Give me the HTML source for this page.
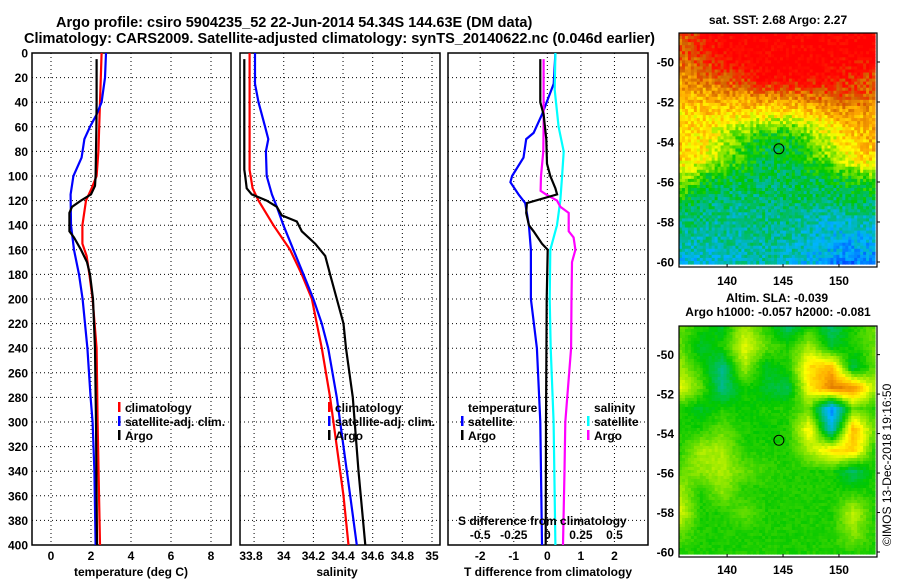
<!DOCTYPE html>
<html><head><meta charset="utf-8"><style>
html,body{margin:0;padding:0;background:#fff;}
svg{display:block;font-family:"Liberation Sans",Arial,sans-serif;font-weight:bold;}
</style></head><body>
<svg id="fig" width="900" height="580" viewBox="0 0 900 580" xmlns="http://www.w3.org/2000/svg">
<text x="56" y="27" font-size="14.5">Argo profile: csiro 5904235_52 22-Jun-2014 54.34S 144.63E (DM data)</text>
<text x="24" y="43" font-size="14.5" textLength="631">Climatology: CARS2009. Satellite-adjusted climatology: synTS_20140622.nc (0.046d earlier)</text>
<g id="g"></g>
</svg>
<script>
// ---- data ----
const depthTicks=[0,20,40,60,80,100,120,140,160,180,200,220,240,260,280,300,320,340,360,380,400];
const tTicks=[0,2,4,6,8];
const sTicks=[33.8,34,34.2,34.4,34.6,34.8,35];
const dTicks=[-2,-1,0,1,2];
const dsTicks=[-0.5,-0.25,0,0.25,0.5];
const argoTDepth=[5,20,40,60,80,100,108,115,120,125,130,145,150,160,170,180,200,240,300,400];
const argoT=[2.28,2.28,2.28,2.27,2.25,2.23,2.2,2.0,1.5,1.05,0.92,0.92,1.15,1.5,1.8,1.95,2.1,2.2,2.25,2.3];
const climTDepth=[0,40,80,100,110,120,140,155,165,180,200,240,300,400];
const climT=[2.53,2.45,2.37,2.28,2.03,1.75,1.57,1.57,1.78,1.92,2.08,2.28,2.33,2.45];
const satTDepth=[0,20,40,50,60,70,85,100,115,140,160,180,200,240,280,300,340,400];
const satT=[2.75,2.7,2.53,2.28,1.95,1.67,1.53,1.12,0.98,1.0,1.15,1.4,1.58,1.82,1.98,2.08,2.17,2.23];
const argoSDepth=[5,95,100,110,115,120,125,132,137,145,155,165,180,200,220,240,280,340,400];
const argoS=[33.734,33.734,33.74,33.75,33.784,33.885,33.953,33.987,34.088,34.122,34.212,34.28,34.313,34.358,34.403,34.42,34.466,34.504,34.55];
const climSDepth=[0,95,110,120,140,160,180,200,220,240,280,320,360,400];
const climS=[33.77,33.77,33.79,33.83,33.93,34.043,34.122,34.19,34.223,34.257,34.313,34.358,34.403,34.437];
const satSDepth=[0,25,40,60,70,80,100,115,125,140,160,180,200,220,240,280,320,360,400];
const satS=[33.806,33.806,33.83,33.874,33.896,33.88,33.885,33.92,33.953,33.998,34.065,34.133,34.2,34.257,34.3,34.358,34.403,34.448,34.493];
const argoDTDepth=[5,40,50,70,90,100,110,115,122,130,140,145,155,160,200,300,400];
const argoDT=[-0.21,-0.21,-0.11,-0.03,-0.01,0.09,0.24,0.29,-0.61,-0.63,-0.55,-0.41,-0.16,0.01,-0.02,-0.04,-0.05];
const satDTDepth=[0,25,50,65,70,85,100,105,115,122,140,160,200,240,300,400];
const satDT=[0.24,0.19,-0.16,-0.41,-0.63,-0.71,-1.05,-1.1,-0.86,-0.66,-0.55,-0.49,-0.49,-0.31,-0.21,-0.16];
const argoDSDepth=[5,60,80,100,112,115,120,125,130,145,150,160,170,200,240,300,340,400];
const argoDS=[-0.028,-0.028,-0.03,-0.047,-0.05,-0.01,0.072,0.097,0.159,0.159,0.196,0.209,0.184,0.18,0.177,0.134,0.128,0.117];
const satDSDepth=[0,30,60,80,100,120,140,160,200,240,300,400];
const satDS=[0.06,0.055,0.084,0.122,0.11,0.097,0.072,0.022,0.018,0.025,0.047,0.06];
const lonTicks=[140,145,150];
const latTicks=[-50,-52,-54,-56,-58,-60];
const sstGrid=[
[0.85,0.97,1,1,1,1,1,1],[0.85,0.95,1,1,1,1,1,1],[0.8,0.85,0.92,1,1,1,0.95,0.9],
[0.74,0.76,0.8,0.8,0.82,0.86,0.87,0.84],[0.68,0.7,0.68,0.66,0.64,0.7,0.76,0.76],
[0.72,0.68,0.56,0.46,0.46,0.6,0.7,0.76],[0.7,0.66,0.52,0.43,0.45,0.52,0.66,0.72],
[0.62,0.46,0.43,0.42,0.42,0.43,0.46,0.52],[0.46,0.41,0.39,0.4,0.4,0.4,0.42,0.42],
[0.4,0.38,0.36,0.38,0.38,0.33,0.33,0.35],[0.35,0.35,0.36,0.37,0.36,0.32,0.27,0.29],
[0.3,0.32,0.33,0.35,0.33,0.27,0.2,0.24]];
const slaGrid=[
[0.55,0.5,0.45,0.6,0.5,0.4,0.5,0.4,0.5,0.55],
[0.55,0.45,0.5,0.65,0.55,0.5,0.6,0.45,0.5,0.55],
[0.6,0.5,0.38,0.6,0.45,0.5,0.7,0.75,0.42,0.55],
[0.65,0.55,0.38,0.5,0.45,0.42,0.68,0.82,0.8,0.6],
[0.5,0.45,0.5,0.48,0.5,0.5,0.55,0.22,0.55,0.5],
[0.5,0.5,0.55,0.5,0.48,0.5,0.68,0.32,0.75,0.55],
[0.5,0.6,0.6,0.5,0.5,0.5,0.6,0.7,0.72,0.5],
[0.55,0.58,0.6,0.55,0.52,0.5,0.5,0.5,0.4,0.5],
[0.6,0.5,0.58,0.5,0.5,0.5,0.5,0.5,0.5,0.5],
[0.65,0.5,0.5,0.55,0.5,0.5,0.5,0.5,0.62,0.5],
[0.55,0.5,0.5,0.5,0.5,0.5,0.5,0.5,0.58,0.5],
[0.5,0.5,0.5,0.5,0.5,0.5,0.5,0.5,0.5,0.5]];
const argoLon=144.63, argoLat=-54.34;

// ---- drawing ----
const NS="http://www.w3.org/2000/svg";
const G=document.getElementById('g');
function mk(tag,attrs,parent){const e=document.createElementNS(NS,tag);for(const k in attrs)e.setAttribute(k,attrs[k]);(parent||G).appendChild(e);return e;}
const Y0=53,Y1=545;
const yD=d=>Y0+(Y1-Y0)*d/400;
function panel(x0,x1,dmin,dmax,ticks,name){
  const sx=v=>x0+(x1-x0)*(v-dmin)/(dmax-dmin);
  const grp=mk('g',{});
  
  
  depthTicks.forEach(d=>{if(d>0&&d<400){const l=mk('line',{x1:x0,x2:x1,y1:yD(d),y2:yD(d),stroke:'#000','stroke-width':1,'stroke-dasharray':'1,3'},grp);
    }});
  ticks.forEach(v=>{const x=sx(v);if(x>x0+1&&x<x1-1){const l=mk('line',{x1:x,x2:x,y1:Y0,y2:Y1,stroke:'#000','stroke-width':1,'stroke-dasharray':'1,3'},grp);
    }});
  const r=mk('rect',{x:x0,y:Y0,width:x1-x0,height:Y1-Y0,fill:'none',stroke:'#000','stroke-width':1.5},grp);
  
  return {sx,grp};
}
function line(px,xs,ds,color,name,grp){
  const p=xs.map((v,i)=>px(v).toFixed(1)+','+yD(ds[i]).toFixed(1)).join(' ');
  const e=mk('polyline',{points:p,fill:'none',stroke:color,'stroke-width':2.2},grp);
  
  
}
function txt(x,y,s,anchor,size,name,parent){const e=mk('text',{x:x,y:y,'text-anchor':anchor||'start','font-size':size||12},parent);e.textContent=s;
  return e;}

depthTicks.forEach(d=>txt(28,yD(d)+4.5,String(d),'end',12,'depth-tick-label'));

const P1=panel(32,231,-0.95,9,tTicks,'temperature-panel');
line(P1.sx,climT,climTDepth,'#f00','climatology-temperature-line',P1.grp);
line(P1.sx,satT,satTDepth,'#00f','satellite-temperature-line',P1.grp);
line(P1.sx,argoT,argoTDepth,'#000','argo-temperature-line',P1.grp);
tTicks.forEach(v=>txt(P1.sx(v),560,String(v),'middle',12,'temperature-tick-label'));
txt(131,576,'temperature (deg C)','middle',12,'temperature-axis-title');

const P2=panel(240,440,33.705,35.054,sTicks,'salinity-panel');
line(P2.sx,climS,climSDepth,'#f00','climatology-salinity-line',P2.grp);
line(P2.sx,satS,satSDepth,'#00f','satellite-salinity-line',P2.grp);
line(P2.sx,argoS,argoSDepth,'#000','argo-salinity-line',P2.grp);
sTicks.forEach((v,i)=>txt(i==0?251:P2.sx(v),560,String(v),'middle',12,'salinity-tick-label'));
txt(337,576,'salinity','middle',12,'salinity-axis-title');

function legend(x,y,items,name){
  const g=mk('g',{});
  items.forEach((it,i)=>{ if(it[0]) {const b=mk('rect',{x:x,y:y+i*14-10,width:2.5,height:10,fill:it[0]},g);
      }
    txt(x+7,y+i*14,it[1],'start',12,'legend-entry',g);});
}
legend(118,412,[['#f00','climatology'],['#00f','satellite-adj. clim.'],['#000','Argo']],'temperature-legend');
legend(328,412,[['#f00','climatology'],['#00f','satellite-adj. clim.'],['#000','Argo']],'salinity-legend');

const P3=panel(448,648,-2.96,3,dTicks,'difference-panel');
const sxS=v=>P3.sx(v*4);
line(P3.sx,satDT,satDTDepth,'#00f','satellite-temperature-difference-line',P3.grp);
line(sxS,satDS,satDSDepth,'#0ff','satellite-salinity-difference-line',P3.grp);
line(sxS,argoDS,argoDSDepth,'#f0f','argo-salinity-difference-line',P3.grp);
line(P3.sx,argoDT,argoDTDepth,'#000','argo-temperature-difference-line',P3.grp);
dTicks.forEach(v=>txt(P3.sx(v),560,String(v),'middle',12,'t-difference-tick-label'));
txt(548,576,'T difference from climatology','middle',12,'t-difference-axis-title');
txt(458,525,'S difference from climatology','start',12,'s-difference-axis-title');
dsTicks.forEach(v=>txt(sxS(v),539,String(v),'middle',12,'s-difference-tick-label'));
legend(461,412,[[null,'temperature'],['#00f','satellite'],['#000','Argo']],'difference-temperature-legend');
legend(587,412,[[null,'salinity'],['#0ff','satellite'],['#f0f','Argo']],'difference-salinity-legend');

const cstops=[[0,[0,0,150]],[0.15,[0,70,255]],[0.28,[0,180,255]],[0.38,[0,185,140]],[0.48,[0,200,0]],[0.58,[140,230,0]],[0.66,[255,255,0]],[0.76,[255,170,0]],[0.86,[210,100,0]],[0.94,[255,20,0]],[1,[255,0,0]]];
function cmap(v){v=Math.max(0,Math.min(1,v));for(let i=1;i<cstops.length;i++){if(v<=cstops[i][0]){const a=cstops[i-1],b=cstops[i],t=(v-a[0])/(b[0]-a[0]);
  return 'rgb('+a[1].map((c,k)=>Math.round(c+(b[1][k]-c)*t)).join(',')+')';}}return 'rgb(255,0,0)';}
function bil(grid,u,v){const R=grid.length-1,C=grid[0].length-1;const y=v*R,x=u*C;const i=Math.min(Math.floor(y),R-1),j=Math.min(Math.floor(x),C-1);
  const fy=y-i,fx=x-j;return grid[i][j]*(1-fx)*(1-fy)+grid[i][j+1]*fx*(1-fy)+grid[i+1][j]*(1-fx)*fy+grid[i+1][j+1]*fx*fy;}
function hash(a,b){let h=(a*374761393+b*668265263)|0;h=(h^(h>>>13))*1274126177|0;return ((h^(h>>>16))>>>0)/4294967296;}

function map(top,bottom,latTop,latBot,grid,name,ticklabY,noise){
  const x0=679,x1=877,lon0=135.7,lon1=153.4;
  const lx=l=>x0+(x1-x0)*(l-lon0)/(lon1-lon0);
  const ly=l=>top+(bottom-top)*(latTop-l)/(latTop-latBot);
  const g=mk('g',{});
  const dataBot=ly(-60.1);
  const nx=66,ny=76,cw=(x1-2-x0)/nx,ch=(dataBot-top)/ny;
  for(let r=0;r<ny;r++)for(let c=0;c<nx;c++){
    const val=bil(grid,(c+0.5)/nx,(r+0.5)/ny)+noise*(hash(r+1,c+7)-0.5);
    const cell=mk('rect',{x:(x0+c*cw).toFixed(2),y:(top+r*ch).toFixed(2),width:(cw+0.6).toFixed(2),height:(ch+0.6).toFixed(2),fill:cmap(val)},g);
    
  }
  const fr=mk('rect',{x:x0,y:top,width:x1-x0,height:bottom-top+5,fill:'none',stroke:'#000','stroke-width':1.2},g);
  
  latTicks.forEach(l=>{txt(674,ly(l)+4.5,String(l),'end',12,'latitude-tick-label',g);
    const t=mk('line',{x1:x1,x2:x1+3,y1:ly(l),y2:ly(l),stroke:'#000'},g);});
  lonTicks.forEach(l=>{txt(lx(l),ticklabY,String(l),'middle',12,'longitude-tick-label',g);
    const t=mk('line',{x1:lx(l),x2:lx(l),y1:bottom+5,y2:bottom+2,stroke:'#000'},g);});
  const m=mk('circle',{cx:lx(argoLon),cy:ly(argoLat),r:5,fill:'none',stroke:'#000','stroke-width':1},g);
  
}
map(33,262,-48.55,-60,sstGrid,'sst-map',285,0.14);
map(326,552,-48.55,-60,slaGrid,'sla-map',574,0.03);
txt(778,24,'sat. SST: 2.68 Argo: 2.27','middle',12,'sst-map-title');
txt(777,302,'Altim. SLA: -0.039','middle',12,'sla-map-title');
txt(778,316,'Argo h1000: -0.057 h2000: -0.081','middle',12,'argo-height-title');
const cr=txt(0,0,'©IMOS 13-Dec-2018 19:16:50','start',12,'copyright-timestamp');
cr.setAttribute('font-weight','normal');
cr.setAttribute('transform','translate(891,546) rotate(-90)');
</script>
</body></html>
